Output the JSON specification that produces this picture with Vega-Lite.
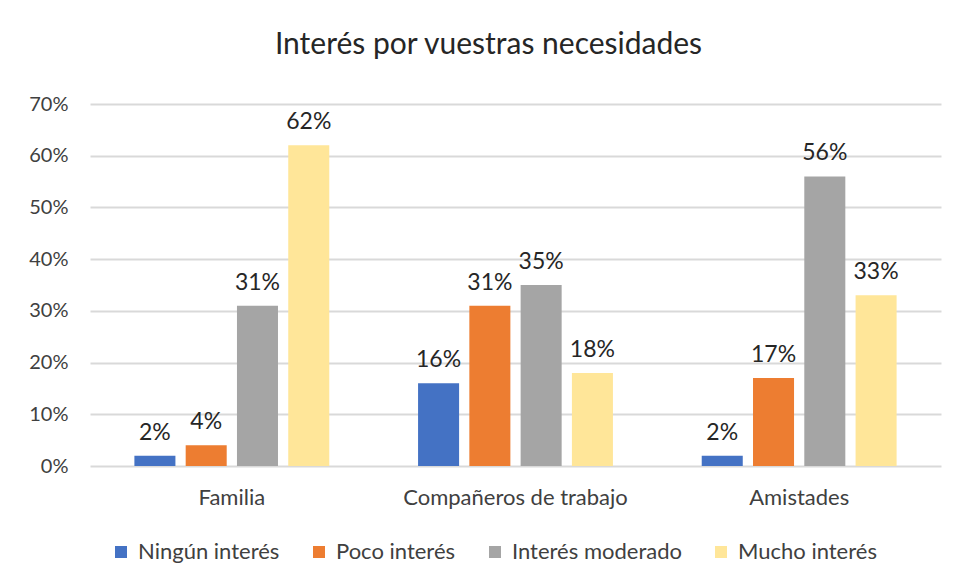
{
  "$schema": "https://vega.github.io/schema/vega-lite/v6.json",
  "width": 851,
  "height": 362,
  "autosize": {"type": "none"},
  "padding": {"left": 90, "top": 104, "right": 19, "bottom": 117},
  "background": "white",
  "title": {
    "text": "Interés por vuestras necesidades",
    "anchor": "middle",
    "frame": "group",
    "dx": -27,
    "offset": 34,
    "fontSize": 30,
    "font": "Lato",
    "fontWeight": "normal",
    "color": "#262626"
  },
  "data": {
    "values": [
      {"grupo": "Familia", "nivel": "Ningún interés", "valor": 0.02},
      {"grupo": "Familia", "nivel": "Poco interés", "valor": 0.04},
      {"grupo": "Familia", "nivel": "Interés moderado", "valor": 0.31},
      {"grupo": "Familia", "nivel": "Mucho interés", "valor": 0.62},
      {"grupo": "Compañeros de trabajo", "nivel": "Ningún interés", "valor": 0.16},
      {"grupo": "Compañeros de trabajo", "nivel": "Poco interés", "valor": 0.31},
      {"grupo": "Compañeros de trabajo", "nivel": "Interés moderado", "valor": 0.35},
      {"grupo": "Compañeros de trabajo", "nivel": "Mucho interés", "valor": 0.18},
      {"grupo": "Amistades", "nivel": "Ningún interés", "valor": 0.02},
      {"grupo": "Amistades", "nivel": "Poco interés", "valor": 0.17},
      {"grupo": "Amistades", "nivel": "Interés moderado", "valor": 0.56},
      {"grupo": "Amistades", "nivel": "Mucho interés", "valor": 0.33}
    ]
  },
  "encoding": {
    "x": {
      "field": "grupo",
      "type": "nominal",
      "sort": ["Familia", "Compañeros de trabajo", "Amistades"],
      "scale": {"paddingInner": 0.313, "paddingOuter": 0.1565},
      "axis": {
        "title": null,
        "labelAngle": 0,
        "ticks": false,
        "domain": false,
        "labelPadding": 21,
        "labelLimit": 0,
        "labelFontSize": 22,
        "labelFont": "Lato",
        "labelColor": "#404040"
      }
    },
    "xOffset": {
      "field": "nivel",
      "type": "nominal",
      "sort": ["Ningún interés", "Poco interés", "Interés moderado", "Mucho interés"],
      "scale": {"paddingInner": 0.2, "paddingOuter": 0}
    },
    "y": {
      "field": "valor",
      "type": "quantitative",
      "scale": {"domain": [0, 0.7]},
      "axis": {
        "title": null,
        "format": ".0%",
        "values": [0, 0.1, 0.2, 0.3, 0.4, 0.5, 0.6, 0.7],
        "labelOverlap": false,
        "ticks": false,
        "domain": false,
        "labelPadding": 22,
        "labelFontSize": 20,
        "labelFont": "Lato",
        "labelColor": "#404040",
        "gridColor": "#d9d9d9",
        "gridWidth": 2
      }
    },
    "color": {
      "field": "nivel",
      "type": "nominal",
      "sort": ["Ningún interés", "Poco interés", "Interés moderado", "Mucho interés"],
      "scale": {
        "domain": ["Ningún interés", "Poco interés", "Interés moderado", "Mucho interés"],
        "range": ["#4472C4", "#ED7D31", "#A5A5A5", "#FFE699"]
      },
      "legend": {
        "title": null,
        "orient": "none",
        "direction": "horizontal",
        "legendX": 20,
        "legendY": 437,
        "symbolType": "square",
        "symbolSize": 144,
        "symbolStrokeWidth": 0,
        "labelFontSize": 22,
        "labelFont": "Lato",
        "labelColor": "#404040",
        "labelLimit": 0,
        "columnPadding": 28,
        "labelOffset": 6
      }
    }
  },
  "layer": [
    {"mark": {"type": "bar"}},
    {
      "mark": {
        "type": "text",
        "baseline": "bottom",
        "dy": -11,
        "fontSize": 23,
        "font": "Lato",
        "color": "#262626"
      },
      "encoding": {
        "text": {"field": "valor", "type": "quantitative", "format": ".0%"},
        "color": {"value": "#262626"}
      }
    }
  ],
  "config": {"view": {"stroke": null}}
}
